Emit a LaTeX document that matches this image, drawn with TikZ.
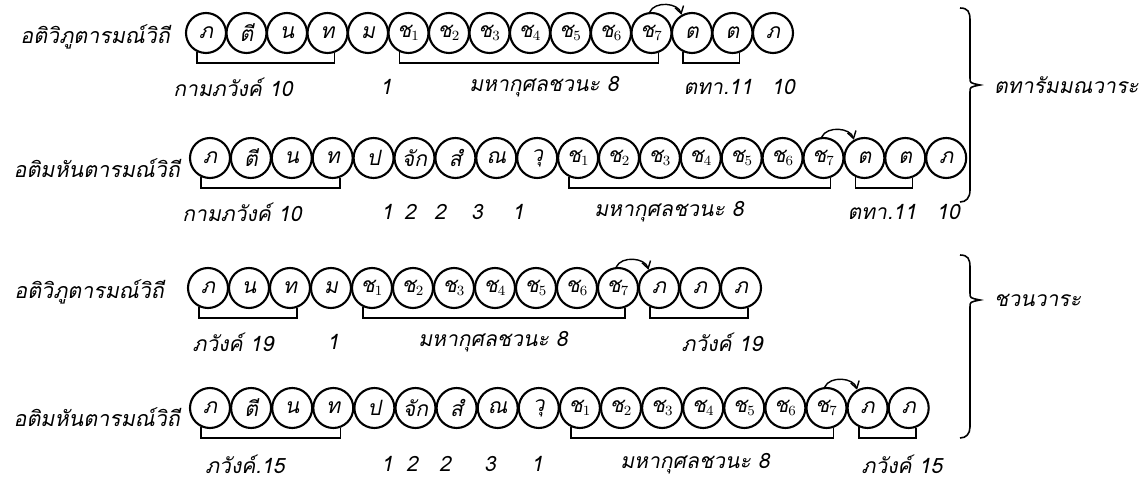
\documentclass[tikz,border=0pt]{standalone}
\usepackage{fontspec}
\usepackage{tikz}
\usetikzlibrary{arrows.meta}
\newfontfamily\thaifont[Script=Thai,FakeSlant=0.2]{Loma}

\tikzset{
  citta/.style={draw,circle,line width=1.2pt,minimum size=0.8cm,inner sep=0pt,font=\thaifont\fontsize{12}{12}\selectfont},
  brk/.style={line width=0.9pt},
  lbl/.style={font=\thaifont\fontsize{12}{14}\selectfont},
  title/.style={font=\thaifont\fontsize{12.2}{15}\selectfont,anchor=east,inner sep=1pt},
  hop/.style={-{Straight Barb[length=4pt,width=5pt]},line width=0.8pt},
}

\begin{document}
\begin{tikzpicture}[x=0.02cm,y=-0.02cm]
\useasboundingbox (0,0) rectangle (1147,486);

\node[title] (t1) at (172,37) {อติวิภูตารมณ์วิถี};
\foreach \s [count=\i] in {ภ,ตี,น,ท,ม,ช$_1$,ช$_2$,ช$_3$,ช$_4$,ช$_5$,ช$_6$,ช$_7$,ต,ต,ภ}
  \node[citta] (a\i) at ({206+40.5*(\i-1)},33) {\s};
\draw[brk] (a1.-115) -- +(0,11) -| (a4.-70);
\draw[brk] (a6.-115) -- +(0,11) -| (a12.-70);
\draw[brk] (a13.-115) -- +(0,11) -| (a14.-70);
\draw[hop] (a12.95) to[bend left=70] (a13.120);
\node[lbl] (la1) at (233,87) {กามภวังค์ 10};
\node[lbl] (la2) at (386,87) {1};
\node[lbl] (la3) at (544,87) {มหากุศลชวนะ 8};
\node[lbl] (la4) at (718,87) {ตทา.11};
\node[lbl] (la5) at (783,87) {10};

\node[title] (t2) at (182,168) {อติมหันตารมณ์วิถี};
\foreach \s [count=\i] in {ภ,ตี,น,ท,ป,จัก,สํ,ณ,วุ,ช$_1$,ช$_2$,ช$_3$,ช$_4$,ช$_5$,ช$_6$,ช$_7$,ต,ต,ภ}
  \node[citta] (b\i) at ({210+40.9*(\i-1)},158) {\s};
\draw[brk] (b1.-115) -- +(0,11) -| (b4.-70);
\draw[brk] (b10.-115) -- +(0,11) -| (b16.-70);
\draw[brk] (b17.-115) -- +(0,11) -| (b18.-70);
\draw[hop] (b16.95) to[bend left=70] (b17.120);
\node[lbl] (lb1) at (242,212) {กามภวังค์ 10};
\node[lbl] (lb2) at (387,212) {1};
\node[lbl] (lb3) at (410,212) {2};
\node[lbl] (lb4) at (440,212) {2};
\node[lbl] (lb5) at (477,212) {3};
\node[lbl] (lb6) at (518,212) {1};
\node[lbl] (lb7) at (669,212) {มหากุศลชวนะ 8};
\node[lbl] (lb8) at (882,212) {ตทา.11};
\node[lbl] (lb9) at (948,212) {10};

\node[title] (t3) at (166,292) {อติวิภูตารมณ์วิถี};
\foreach \s [count=\i] in {ภ,น,ท,ม,ช$_1$,ช$_2$,ช$_3$,ช$_4$,ช$_5$,ช$_6$,ช$_7$,ภ,ภ,ภ}
  \node[citta] (c\i) at ({208+41*(\i-1)},288) {\s};
\draw[brk] (c1.-115) -- +(0,11) -| (c3.-70);
\draw[brk] (c5.-115) -- +(0,11) -| (c11.-70);
\draw[brk] (c12.-115) -- +(0,11) -| (c14.-70);
\draw[hop] (c11.95) to[bend left=70] (c12.120);
\node[lbl] (lc1) at (233,342) {ภวังค์ 19};
\node[lbl] (lc2) at (333,342) {1};
\node[lbl] (lc3) at (493,342) {มหากุศลชวนะ 8};
\node[lbl] (lc4) at (722,342) {ภวังค์ 19};

\node[title] (t4) at (182,417) {อติมหันตารมณ์วิถี};
\foreach \s [count=\i] in {ภ,ตี,น,ท,ป,จัก,สํ,ณ,วุ,ช$_1$,ช$_2$,ช$_3$,ช$_4$,ช$_5$,ช$_6$,ช$_7$,ภ,ภ}
  \node[citta] (d\i) at ({210+41.1*(\i-1)},408) {\s};
\draw[brk] (d1.-115) -- +(0,11) -| (d4.-70);
\draw[brk] (d10.-115) -- +(0,11) -| (d16.-70);
\draw[brk] (d17.-115) -- +(0,11) -| (d18.-70);
\draw[hop] (d16.95) to[bend left=70] (d17.120);
\node[lbl] (ld1) at (245,464) {ภวังค์.15};
\node[lbl] (ld2) at (387,464) {1};
\node[lbl] (ld3) at (412,464) {2};
\node[lbl] (ld4) at (445,464) {2};
\node[lbl] (ld5) at (490,464) {3};
\node[lbl] (ld6) at (537,464) {1};
\node[lbl] (ld7) at (695,464) {มหากุศลชวนะ 8};
\node[lbl] (ld8) at (902,464) {ภวังค์ 15};

\draw[brk] (960,8) .. controls (968,8) and (970,12) .. (970,20) -- (970,78) .. controls (970,83) .. (980,85) .. controls (970,87) .. (970,92) -- (970,190) .. controls (970,198) and (966,202) .. (960,202);
\node[lbl,anchor=west] (v1) at (988,85) {ตทารัมมณวาระ};
\draw[brk] (960,255) .. controls (968,255) and (970,259) .. (970,267) -- (970,293) .. controls (970,298) .. (980,300) .. controls (970,302) .. (970,307) -- (970,427) .. controls (970,434) and (966,438) .. (960,438);
\node[lbl,anchor=west] (v2) at (988,300) {ชวนวาระ};
\end{tikzpicture}
\end{document}
